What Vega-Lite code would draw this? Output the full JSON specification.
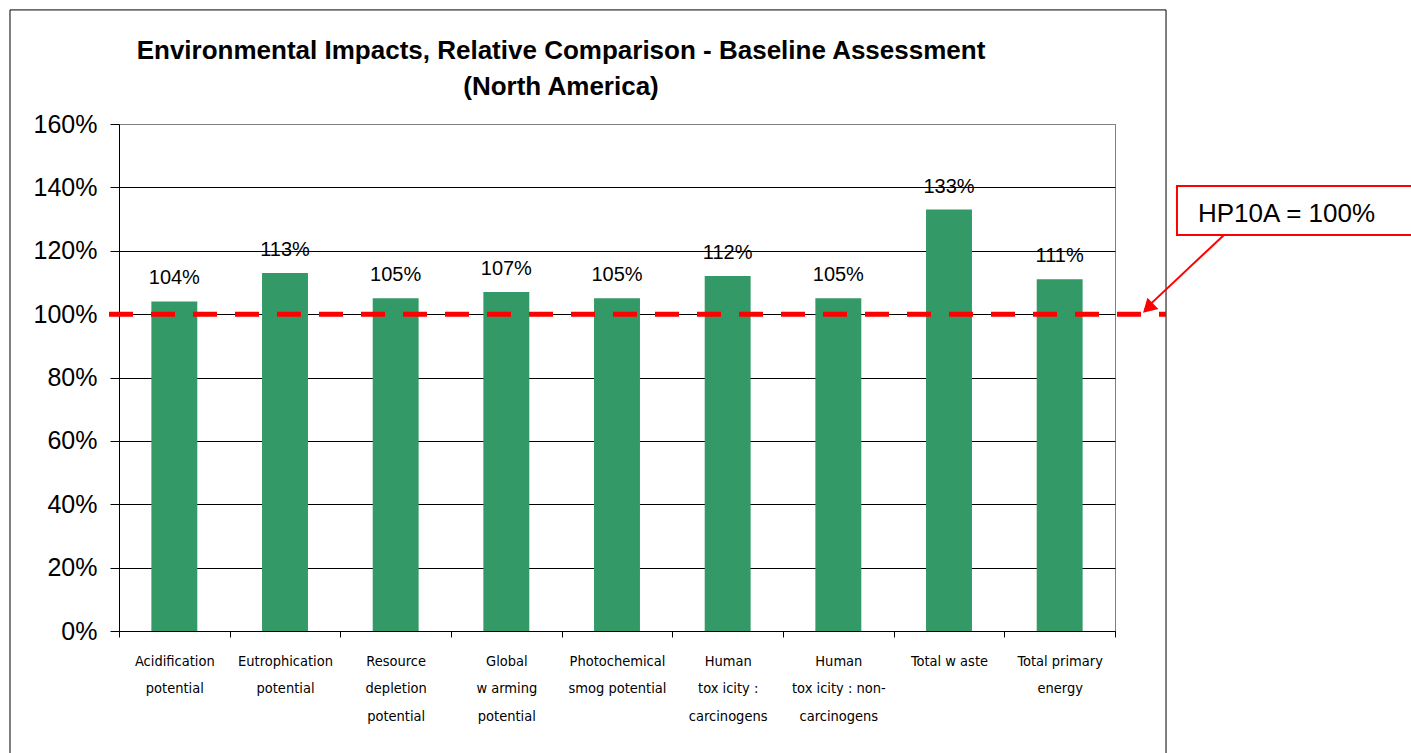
{
  "$schema": "https://vega.github.io/schema/vega-lite/v6.json",
  "width": 996,
  "height": 507,
  "autosize": {"type": "none"},
  "padding": {"left": 119, "top": 124, "right": 296, "bottom": 122},
  "background": "white",
  "config": {
    "view": {"stroke": "#808080", "strokeWidth": 1},
    "font": "Liberation Sans"
  },
  "title": {
    "text": ["Environmental Impacts, Relative Comparison - Baseline Assessment", "(North America)"],
    "font": "Liberation Sans",
    "fontSize": 26,
    "fontWeight": "bold",
    "color": "black",
    "anchor": "middle",
    "frame": "group",
    "dx": -56,
    "lineHeight": 36,
    "baseline": "bottom",
    "offset": -117
  },
  "datasets": {
    "impacts": [
      {"category": "Acidification|potential", "value": 1.04},
      {"category": "Eutrophication|potential", "value": 1.13},
      {"category": "Resource|depletion|potential", "value": 1.05},
      {"category": "Global|w arming|potential", "value": 1.07},
      {"category": "Photochemical|smog potential", "value": 1.05},
      {"category": "Human|tox icity :|carcinogens", "value": 1.12},
      {"category": "Human|tox icity : non-|carcinogens", "value": 1.05},
      {"category": "Total w aste", "value": 1.33},
      {"category": "Total primary|energy", "value": 1.11}
    ],
    "frame": [{"x0": -0.985, "x1": 9.461, "y0": -0.41, "y1": 1.96}],
    "baseline": [{"x0": -0.0904, "x1": 9.461, "y": 1.0}],
    "note": [{"x0": 9.56, "x1": 11.9, "y0": 1.25, "y1": 1.404, "tx": 9.75, "ty": 1.291, "text": "HP10A = 100%"}],
    "arrow": [{"x0": 9.985, "y0": 1.25, "x1": 9.27, "y1": 1.015}],
    "arrowhead": [{"x": 9.298, "y": 1.019}]
  },
  "layer": [
    {
      "data": {"name": "impacts"},
      "mark": {"type": "bar", "color": "#339966", "width": {"band": 0.415}},
      "encoding": {
        "x": {
          "field": "category",
          "type": "nominal",
          "sort": null,
          "scale": {"paddingInner": 0, "paddingOuter": 0},
          "axis": {
            "title": null,
            "labelExpr": "split(datum.label, '|')",
            "labelAngle": 0,
            "labelFont": "DejaVu Sans Condensed, Liberation Sans",
            "labelFontSize": 14.5,
            "labelLineHeight": 27.5,
            "labelColor": "black",
            "labelPadding": 17,
            "labelLimit": 200,
            "tickBand": "extent",
            "tickSize": 6,
            "tickColor": "black",
            "domainColor": "black",
            "grid": false
          }
        },
        "y": {
          "field": "value",
          "type": "quantitative",
          "scale": {"domain": [0, 1.6], "nice": false},
          "axis": {
            "title": null,
            "format": ".0%",
            "values": [0, 0.2, 0.4, 0.6, 0.8, 1.0, 1.2, 1.4, 1.6],
            "labelFontSize": 25,
            "labelColor": "black",
            "labelPadding": 13,
            "tickSize": 9,
            "tickColor": "black",
            "domainColor": "black",
            "gridColor": {"condition": {"test": "datum.value >= 1.6", "value": "#808080"}, "value": "black"},
            "gridOpacity": 1
          }
        }
      }
    },
    {
      "data": {"name": "impacts"},
      "mark": {"type": "text", "baseline": "alphabetic", "dy": -17, "fontSize": 20, "color": "black"},
      "encoding": {
        "x": {"field": "category", "type": "nominal", "sort": null, "scale": {"paddingInner": 0, "paddingOuter": 0}, "axis": null},
        "y": {"field": "value", "type": "quantitative"},
        "text": {"field": "value", "type": "quantitative", "format": ".0%"}
      }
    },
    {
      "data": {"name": "frame"},
      "mark": {"type": "rect", "fill": null, "stroke": "black", "strokeWidth": 1, "clip": false},
      "encoding": {
        "x": {"field": "x0", "type": "quantitative", "scale": {"domain": [0, 9], "nice": false, "zero": false}, "axis": null},
        "x2": {"field": "x1"},
        "y": {"field": "y0", "type": "quantitative"},
        "y2": {"field": "y1"}
      }
    },
    {
      "data": {"name": "baseline"},
      "mark": {"type": "rule", "color": "#ff0000", "strokeWidth": 5, "strokeDash": [24, 18], "strokeCap": "butt", "clip": false},
      "encoding": {
        "x": {"field": "x0", "type": "quantitative", "scale": {"domain": [0, 9], "nice": false, "zero": false}, "axis": null},
        "x2": {"field": "x1"},
        "y": {"field": "y", "type": "quantitative"}
      }
    },
    {
      "data": {"name": "note"},
      "mark": {"type": "rect", "fill": "white", "stroke": "#ff0000", "strokeWidth": 2, "clip": false},
      "encoding": {
        "x": {"field": "x0", "type": "quantitative", "scale": {"domain": [0, 9], "nice": false, "zero": false}, "axis": null},
        "x2": {"field": "x1"},
        "y": {"field": "y0", "type": "quantitative"},
        "y2": {"field": "y1"}
      }
    },
    {
      "data": {"name": "note"},
      "mark": {"type": "text", "align": "left", "baseline": "alphabetic", "fontSize": 26, "color": "black", "clip": false},
      "encoding": {
        "x": {"field": "tx", "type": "quantitative", "scale": {"domain": [0, 9], "nice": false, "zero": false}, "axis": null},
        "y": {"field": "ty", "type": "quantitative"},
        "text": {"field": "text"}
      }
    },
    {
      "data": {"name": "arrow"},
      "mark": {"type": "rule", "color": "#ff0000", "strokeWidth": 2, "clip": false},
      "encoding": {
        "x": {"field": "x0", "type": "quantitative", "scale": {"domain": [0, 9], "nice": false, "zero": false}, "axis": null},
        "x2": {"field": "x1"},
        "y": {"field": "y0", "type": "quantitative"},
        "y2": {"field": "y1"}
      }
    },
    {
      "data": {"name": "arrowhead"},
      "mark": {"type": "point", "shape": "triangle-up", "filled": true, "color": "#ff0000", "opacity": 1, "size": 250, "angle": 226, "clip": false},
      "encoding": {
        "x": {"field": "x", "type": "quantitative", "scale": {"domain": [0, 9], "nice": false, "zero": false}, "axis": null},
        "y": {"field": "y", "type": "quantitative"}
      }
    }
  ],
  "resolve": {"scale": {"x": "independent"}}
}
